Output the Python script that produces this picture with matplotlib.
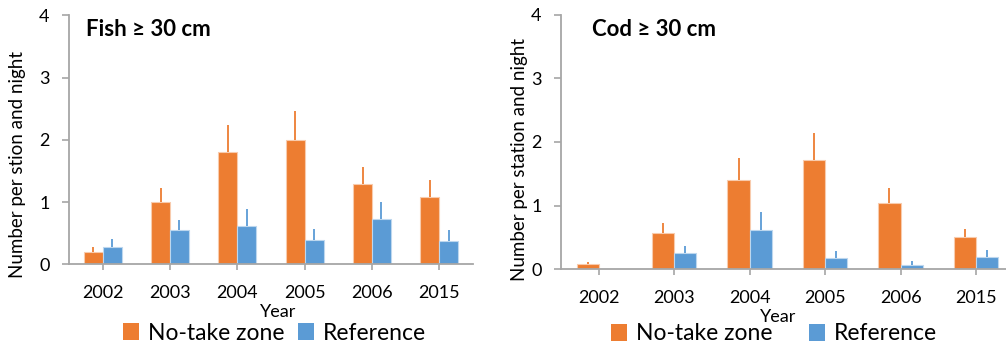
import matplotlib
matplotlib.use("Agg")
import matplotlib.pyplot as plt
import numpy as np
from matplotlib.patches import Patch

plt.rcParams['font.family'] = ['Lato', 'DejaVu Sans']

years = ["2002", "2003", "2004", "2005", "2006", "2015"]

fish_notake = [0.20, 1.00, 1.80, 2.00, 1.29, 1.08]
fish_notake_err = [0.28, 1.22, 2.24, 2.46, 1.56, 1.35]   # top of error bar
fish_ref = [0.27, 0.55, 0.62, 0.39, 0.72, 0.38]
fish_ref_err = [0.41, 0.71, 0.89, 0.56, 1.00, 0.55]

cod_notake = [0.08, 0.57, 1.41, 1.71, 1.04, 0.51]
cod_notake_err = [0.12, 0.73, 1.75, 2.14, 1.28, 0.64]
cod_ref = [0.0, 0.25, 0.62, 0.17, 0.07, 0.19]
cod_ref_err = [0.0, 0.36, 0.90, 0.29, 0.13, 0.30]

ORANGE = "#ED7D31"
BLUE = "#5B9BD5"
ORANGE_EDGE = "#F8CBAD"
BLUE_EDGE = "#BDD7EE"
AXIS = "#A6A6A6"
TXT = "#000000"

fig = plt.figure(figsize=(10.06, 3.5), dpi=100)

def panel(rect, notake, notake_top, ref, ref_top, width, title, title_xy, ylabel, ylabel_xy,
          year_xy, legend_xy, colspacing):
    ax = fig.add_axes(rect)
    x = np.arange(len(years))
    ax.bar(x - width / 2, notake, width, color=ORANGE, edgecolor=ORANGE_EDGE, linewidth=0.8, zorder=2)
    ax.bar(x + width / 2, ref, width, color=BLUE, edgecolor=BLUE_EDGE, linewidth=0.8, zorder=2)
    nt = np.array(notake); ntt = np.array(notake_top)
    rf = np.array(ref); rft = np.array(ref_top)
    ax.errorbar(x - width / 2, nt, yerr=[np.zeros_like(nt), ntt - nt], fmt='none',
                ecolor=ORANGE, elinewidth=1.3, capsize=0, zorder=3)
    mask = rf > 0
    ax.errorbar((x + width / 2)[mask], rf[mask], yerr=[np.zeros(mask.sum()), (rft - rf)[mask]],
                fmt='none', ecolor=BLUE, elinewidth=1.3, capsize=0, zorder=3)
    ax.set_xlim(-0.5, len(years) - 0.5)
    ax.set_ylim(0, 4)
    ax.set_yticks([0, 1, 2, 3, 4])
    ax.set_xticks(x)
    ax.set_xticklabels(years)
    for s in ['top', 'right']:
        ax.spines[s].set_visible(False)
    for s in ['left', 'bottom']:
        ax.spines[s].set_color(AXIS)
        ax.spines[s].set_linewidth(1.3)
    ax.tick_params(axis='y', length=5, width=1.2, color=AXIS, pad=9, labelsize=13, labelcolor=TXT)
    ax.tick_params(axis='x', length=4, width=1.2, color=AXIS, pad=11, labelsize=13, labelcolor=TXT)
    fig.text(title_xy[0], title_xy[1], title, fontsize=16, fontweight='bold', ha='left', va='center',
             color=TXT)
    fig.text(ylabel_xy[0], ylabel_xy[1], ylabel, fontsize=13.5, rotation=90, ha='center', va='center',
             color=TXT)
    fig.text(year_xy[0], year_xy[1], "Year", fontsize=13, ha='center', va='center', color=TXT)
    handles = [Patch(facecolor=ORANGE, edgecolor='none', label="No-take zone"),
               Patch(facecolor=BLUE, edgecolor='none', label="Reference")]
    fig.legend(handles=handles, loc='center', bbox_to_anchor=legend_xy, ncol=2, frameon=False,
               fontsize=16.5, handlelength=0.7, handleheight=0.7, handletextpad=0.4,
               columnspacing=colspacing, borderpad=0)
    return ax

panel([0.0686, 0.2449, 0.4016, 0.7114], fish_notake, fish_notake_err, fish_ref, fish_ref_err, 0.28,
      "Fish \u2265 30 cm", (86 / 1006, 1 - 30 / 350), "Number per stion and night", (17.5 / 1006, 1 - 164.5 / 350),
      (278 / 1006, 1 - 312 / 350), (274.5 / 1006, 1 - 333 / 350), 0.6)

panel([0.5577, 0.2306, 0.450, 0.7274], cod_notake, cod_notake_err, cod_ref, cod_ref_err, 0.295,
      "Cod \u2265 30 cm", (592 / 1006, 1 - 29.3 / 350), "Number per station and night", (519 / 1006, 1 - 159.5 / 350),
      (778 / 1006, 1 - 316.7 / 350), (774 / 1006, 1 - 334 / 350), 1.6)

fig.savefig("out.png", dpi=100)
